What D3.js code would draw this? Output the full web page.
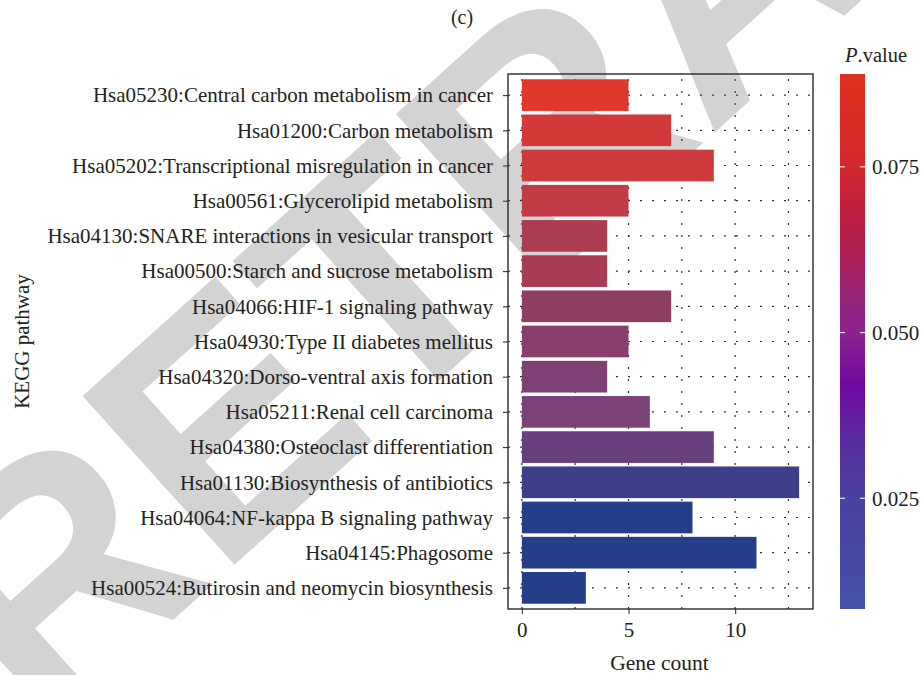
<!DOCTYPE html>
<meta charset="utf-8">
<title>KEGG pathway</title>
<script src="https://d3js.org/d3.v7.min.js"></script>
<style>
  body { margin: 0; background: white; }
  text { font-family: "Liberation Serif", "DejaVu Serif", serif; fill: #222; }
</style>
<body>
<div id="chart"></div>
<script>
// pathways, top to bottom
var pathways = [
  "Hsa05230:Central carbon metabolism in cancer",
  "Hsa01200:Carbon metabolism",
  "Hsa05202:Transcriptional misregulation in cancer",
  "Hsa00561:Glycerolipid metabolism",
  "Hsa04130:SNARE interactions in vesicular transport",
  "Hsa00500:Starch and sucrose metabolism",
  "Hsa04066:HIF-1 signaling pathway",
  "Hsa04930:Type II diabetes mellitus",
  "Hsa04320:Dorso-ventral axis formation",
  "Hsa05211:Renal cell carcinoma",
  "Hsa04380:Osteoclast differentiation",
  "Hsa01130:Biosynthesis of antibiotics",
  "Hsa04064:NF-kappa B signaling pathway",
  "Hsa04145:Phagosome",
  "Hsa00524:Butirosin and neomycin biosynthesis"
];
var geneCounts = [5, 7, 9, 5, 4, 4, 7, 5, 4, 6, 9, 13, 8, 11, 3];
var pValues = [0.089, 0.083, 0.082, 0.077, 0.071, 0.069, 0.061, 0.058, 0.054, 0.052, 0.045, 0.027, 0.010, 0.009, 0.0083];
var xTicks = [0, 5, 10];
var xMinorTicks = [2.5, 7.5, 12.5];
var pTicks = [0.025, 0.05, 0.075];

// colour palettes (p-value stop -> colour)
var legendStops = [0.0083, 0.025, 0.034, 0.042, 0.050, 0.056, 0.061, 0.0686, 0.075, 0.089];
var legendColors = ["#4451a8", "#4a42a0", "#5a2ca0", "#7008a2", "#8c2290", "#9a2478", "#ab2058", "#c0203f", "#d1282c", "#e0301e"];
var barStops = [0.0083, 0.012, 0.027, 0.045, 0.052, 0.058, 0.061, 0.071, 0.077, 0.083, 0.089];
var barColors = ["#243e8a", "#253e8a", "#3e3f8a", "#68407d", "#7a4278", "#8a3e6d", "#8f3e62", "#ae3c50", "#c23c48", "#d23a3a", "#e0392b"];

var W = 922, H = 675;
var panel = {left: 508, right: 813, top: 74, bottom: 609};
var fs = "21px";

var svg = d3.select("#chart").append("svg")
    .attr("width", W)
    .attr("height", H);

// watermark
svg.append("text")
    .attr("transform", "translate(41,739)rotate(-42)")
    .style("font-family", "Liberation Sans, sans-serif")
    .style("font-weight", "bold")
    .style("font-size", "330px")
    .style("fill", "#d3d3d3")
    .text("RETRACTED");

var maxCount = d3.max(geneCounts);
var x = d3.scaleLinear()
    .domain([-0.05 * maxCount, 1.05 * maxCount])
    .range([panel.left, panel.right]);
var y = d3.scalePoint()
    .domain(pathways)
    .range([panel.top, panel.bottom])
    .padding(0.6);
var barH = y.step() * 0.9;

var barColor = d3.scaleLinear().domain(barStops).range(barColors);
var legendColor = d3.scaleLinear().domain(legendStops).range(legendColors);

// grid
var grid = svg.append("g")
    .attr("stroke", "#333")
    .attr("stroke-width", 1.2)
    .attr("stroke-dasharray", "2,10");
grid.selectAll(".gx")
  .data(xTicks.concat(xMinorTicks))
  .enter().append("line")
    .attr("x1", function(d) { return x(d); })
    .attr("x2", function(d) { return x(d); })
    .attr("y1", panel.bottom)
    .attr("y2", panel.top);
grid.selectAll(".gy")
  .data(pathways)
  .enter().append("line")
    .attr("x1", panel.left)
    .attr("x2", panel.right)
    .attr("y1", function(d) { return y(d); })
    .attr("y2", function(d) { return y(d); });

// bars
svg.selectAll(".bar")
  .data(pathways)
  .enter().append("rect")
    .attr("class", "bar")
    .attr("x", x(0))
    .attr("y", function(d) { return y(d) - barH / 2; })
    .attr("width", function(d, i) { return x(geneCounts[i]) - x(0); })
    .attr("height", barH)
    .attr("fill", function(d, i) { return barColor(pValues[i]); });

// panel border
svg.append("rect")
    .attr("x", panel.left)
    .attr("y", panel.top)
    .attr("width", panel.right - panel.left)
    .attr("height", panel.bottom - panel.top)
    .attr("fill", "none")
    .attr("stroke", "#2a2a2a")
    .attr("stroke-width", 1.4);

// axes
var xAxis = svg.append("g")
    .attr("transform", "translate(0," + panel.bottom + ")")
    .call(d3.axisBottom(x).tickValues(xTicks).tickSize(5).tickPadding(8));
var yAxis = svg.append("g")
    .attr("transform", "translate(" + panel.left + ",0)")
    .call(d3.axisLeft(y).tickSize(5).tickPadding(10));
[xAxis, yAxis].forEach(function(a) {
  a.select(".domain").remove();
  a.selectAll("line").attr("stroke", "#333").attr("stroke-width", 1.1);
  a.selectAll("text").style("font-size", fs).attr("fill", "#222");
});

svg.append("text")
    .attr("x", (panel.left + panel.right) / 2 - 1)
    .attr("y", 670)
    .attr("text-anchor", "middle")
    .style("font-size", "21.5px")
    .text("Gene count");

svg.append("text")
    .attr("transform", "translate(29," + (panel.top + panel.bottom) / 2 + ")rotate(-90)")
    .attr("text-anchor", "middle")
    .style("font-size", fs)
    .text("KEGG pathway");

svg.append("text")
    .attr("x", 462)
    .attr("y", 24)
    .attr("text-anchor", "middle")
    .style("font-size", "20px")
    .text("(c)");

// colour bar
var cb = {x: 840, w: 25};
var py = d3.scaleLinear()
    .domain([d3.min(pValues), d3.max(pValues)])
    .range([panel.bottom, panel.top]);

var grad = svg.append("defs").append("linearGradient")
    .attr("id", "pgrad")
    .attr("x1", 0).attr("x2", 0).attr("y1", 1).attr("y2", 0);
grad.selectAll("stop")
  .data(d3.range(0, 1.0001, 0.02))
  .enter().append("stop")
    .attr("offset", function(t) { return t; })
    .attr("stop-color", function(t) { return legendColor(py.domain()[0] + t * (py.domain()[1] - py.domain()[0])); });

svg.append("rect")
    .attr("x", cb.x)
    .attr("y", panel.top)
    .attr("width", cb.w)
    .attr("height", panel.bottom - panel.top)
    .attr("fill", "url(#pgrad)");

var cbTicks = svg.append("g").selectAll("g")
  .data(pTicks)
  .enter().append("g")
    .attr("transform", function(d) { return "translate(0," + py(d) + ")"; });
cbTicks.append("line")
    .attr("x1", cb.x).attr("x2", cb.x + 5)
    .attr("stroke", "#e6e6e6").attr("stroke-width", 1.2);
cbTicks.append("line")
    .attr("x1", cb.x + cb.w - 5).attr("x2", cb.x + cb.w)
    .attr("stroke", "#e6e6e6").attr("stroke-width", 1.2);
cbTicks.append("text")
    .attr("x", 872)
    .attr("dy", "0.35em")
    .style("font-size", fs)
    .text(d3.format(".3f"));

var title = svg.append("text")
    .attr("x", 845)
    .attr("y", 62)
    .style("font-size", "20.5px");
title.append("tspan").style("font-style", "italic").text("P");
title.append("tspan").text(".value");
</script>
</body>
